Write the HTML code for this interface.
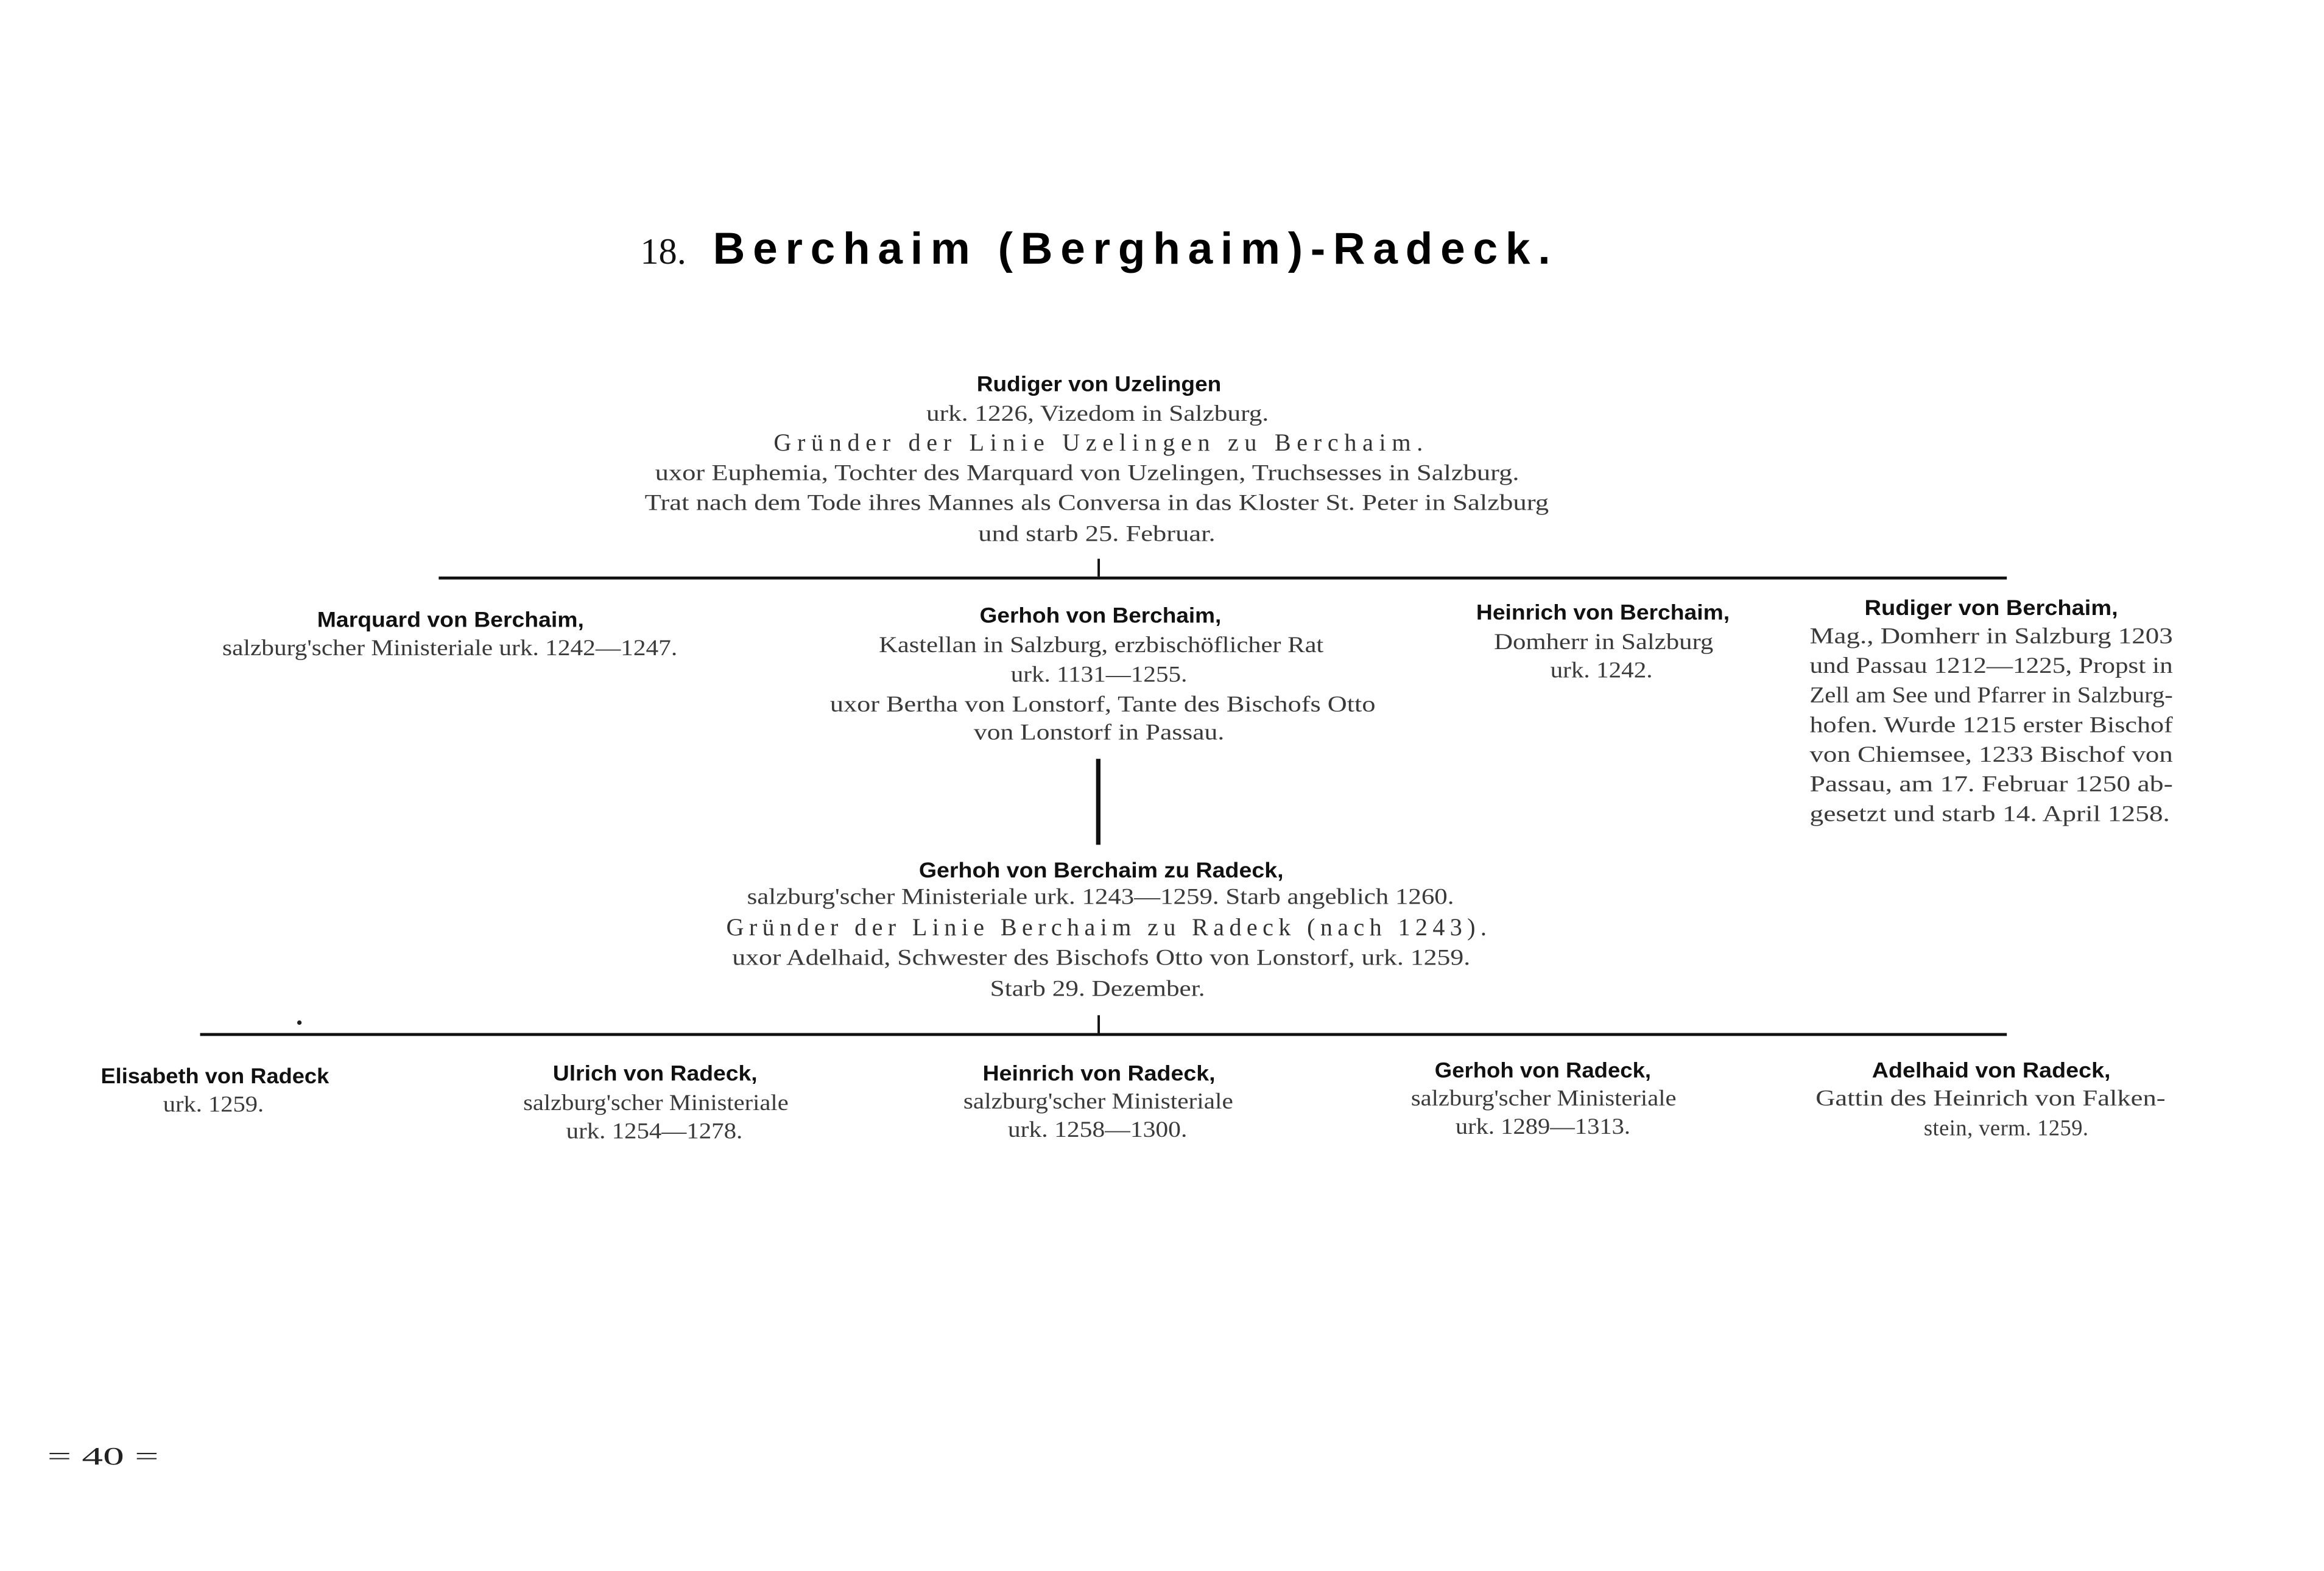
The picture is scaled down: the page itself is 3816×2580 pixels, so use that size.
<!DOCTYPE html>
<html><head><meta charset="utf-8"><style>
html,body{margin:0;padding:0;background:#fff;}
svg{display:block;}
.s{font-family:"Liberation Serif",serif;font-size:15px;fill:#3a3a3a;}
.g{font-family:"Liberation Serif",serif;font-size:16.5px;fill:#333;}
.b{font-family:"Liberation Sans",sans-serif;font-weight:bold;font-size:14.5px;fill:#111;}
</style></head><body>
<svg width="3816" height="2580" viewBox="0 0 1568 1060" preserveAspectRatio="none" xmlns="http://www.w3.org/2000/svg">
<rect width="1568" height="1060" fill="#fff"/>
<text x="432" y="178" textLength="31" lengthAdjust="spacingAndGlyphs" style="font-family:'Liberation Serif',serif;font-size:25px;fill:#111">18.</text>
<text x="481" y="178" textLength="565" lengthAdjust="spacing" style="font-family:'Liberation Sans',sans-serif;font-weight:bold;font-size:30px;fill:#000">Berchaim (Berghaim)-Radeck.</text>

<g>
<text class="b" x="659" y="264" textLength="165" lengthAdjust="spacingAndGlyphs">Rudiger von Uzelingen</text>
<text class="s" x="625" y="284" textLength="231" lengthAdjust="spacingAndGlyphs">urk. 1226, Vizedom in Salzburg.</text>
<text class="g" x="522" y="304" textLength="438" lengthAdjust="spacing">Gründer der Linie Uzelingen zu Berchaim.</text>
<text class="s" x="442" y="324" textLength="583" lengthAdjust="spacingAndGlyphs">uxor Euphemia, Tochter des Marquard von Uzelingen, Truchsesses in Salzburg.</text>
<text class="s" x="435" y="344" textLength="610" lengthAdjust="spacingAndGlyphs">Trat nach dem Tode ihres Mannes als Conversa in das Kloster St. Peter in Salzburg</text>
<text class="s" x="660" y="365" textLength="160" lengthAdjust="spacingAndGlyphs">und starb 25. Februar.</text>

<rect x="296" y="389" width="1058" height="2" fill="#111"/>
<rect x="740.5" y="377" width="1.6" height="12" fill="#111"/>

<text class="b" x="214" y="423" textLength="180" lengthAdjust="spacingAndGlyphs">Marquard von Berchaim,</text>
<text class="s" x="150" y="442" textLength="307" lengthAdjust="spacingAndGlyphs">salzburg'scher Ministeriale urk. 1242—1247.</text>

<text class="b" x="661" y="420" textLength="163" lengthAdjust="spacingAndGlyphs">Gerhoh von Berchaim,</text>
<text class="s" x="593" y="440" textLength="300" lengthAdjust="spacingAndGlyphs">Kastellan in Salzburg, erzbischöflicher Rat</text>
<text class="s" x="682" y="460" textLength="119" lengthAdjust="spacingAndGlyphs">urk. 1131—1255.</text>
<text class="s" x="560" y="480" textLength="368" lengthAdjust="spacingAndGlyphs">uxor Bertha von Lonstorf, Tante des Bischofs Otto</text>
<text class="s" x="657" y="499" textLength="169" lengthAdjust="spacingAndGlyphs">von Lonstorf in Passau.</text>

<text class="b" x="996" y="418" textLength="171" lengthAdjust="spacingAndGlyphs">Heinrich von Berchaim,</text>
<text class="s" x="1008" y="438" textLength="148" lengthAdjust="spacingAndGlyphs">Domherr in Salzburg</text>
<text class="s" x="1046" y="457" textLength="69" lengthAdjust="spacingAndGlyphs">urk. 1242.</text>

<text class="b" x="1258" y="415" textLength="171" lengthAdjust="spacingAndGlyphs">Rudiger von Berchaim,</text>
<text class="s" x="1221" y="434" textLength="245" lengthAdjust="spacingAndGlyphs">Mag., Domherr in Salzburg 1203</text>
<text class="s" x="1221" y="454" textLength="245" lengthAdjust="spacingAndGlyphs">und Passau 1212—1225, Propst in</text>
<text class="s" x="1221" y="474" textLength="245" lengthAdjust="spacingAndGlyphs">Zell am See und Pfarrer in Salzburg-</text>
<text class="s" x="1221" y="494" textLength="245" lengthAdjust="spacingAndGlyphs">hofen. Wurde 1215 erster Bischof</text>
<text class="s" x="1221" y="514" textLength="245" lengthAdjust="spacingAndGlyphs">von Chiemsee, 1233 Bischof von</text>
<text class="s" x="1221" y="534" textLength="245" lengthAdjust="spacingAndGlyphs">Passau, am 17. Februar 1250 ab-</text>
<text class="s" x="1221" y="554" textLength="243" lengthAdjust="spacingAndGlyphs">gesetzt und starb 14. April 1258.</text>

<rect x="739.5" y="512" width="3" height="58" fill="#111"/>

<text class="b" x="620" y="592" textLength="246" lengthAdjust="spacingAndGlyphs">Gerhoh von Berchaim zu Radeck,</text>
<text class="s" x="504" y="610" textLength="477" lengthAdjust="spacingAndGlyphs">salzburg'scher Ministeriale urk. 1243—1259. Starb angeblich 1260.</text>
<text class="g" x="490" y="631" textLength="513" lengthAdjust="spacing">Gründer der Linie Berchaim zu Radeck (nach 1243).</text>
<text class="s" x="494" y="651" textLength="498" lengthAdjust="spacingAndGlyphs">uxor Adelhaid, Schwester des Bischofs Otto von Lonstorf, urk. 1259.</text>
<text class="s" x="668" y="672" textLength="145" lengthAdjust="spacingAndGlyphs">Starb 29. Dezember.</text>

<rect x="135" y="697" width="1219" height="2" fill="#111"/>
<rect x="740.5" y="685" width="1.6" height="12" fill="#111"/>
<circle cx="202" cy="690" r="1.5" fill="#222"/>

<text class="b" x="68" y="731" textLength="154" lengthAdjust="spacingAndGlyphs">Elisabeth von Radeck</text>
<text class="s" x="110" y="750" textLength="68" lengthAdjust="spacingAndGlyphs">urk. 1259.</text>

<text class="b" x="373" y="729" textLength="138" lengthAdjust="spacingAndGlyphs">Ulrich von Radeck,</text>
<text class="s" x="353" y="749" textLength="179" lengthAdjust="spacingAndGlyphs">salzburg'scher Ministeriale</text>
<text class="s" x="382" y="768" textLength="119" lengthAdjust="spacingAndGlyphs">urk. 1254—1278.</text>

<text class="b" x="663" y="729" textLength="157" lengthAdjust="spacingAndGlyphs">Heinrich von Radeck,</text>
<text class="s" x="650" y="748" textLength="182" lengthAdjust="spacingAndGlyphs">salzburg'scher Ministeriale</text>
<text class="s" x="680" y="767" textLength="121" lengthAdjust="spacingAndGlyphs">urk. 1258—1300.</text>

<text class="b" x="968" y="727" textLength="146" lengthAdjust="spacingAndGlyphs">Gerhoh von Radeck,</text>
<text class="s" x="952" y="746" textLength="179" lengthAdjust="spacingAndGlyphs">salzburg'scher Ministeriale</text>
<text class="s" x="982" y="765" textLength="118" lengthAdjust="spacingAndGlyphs">urk. 1289—1313.</text>

<text class="b" x="1263" y="727" textLength="161" lengthAdjust="spacingAndGlyphs">Adelhaid von Radeck,</text>
<text class="s" x="1225" y="746" textLength="236" lengthAdjust="spacingAndGlyphs">Gattin des Heinrich von Falken-</text>
<text class="s" x="1298" y="766" textLength="111" lengthAdjust="spacing">stein, verm. 1259.</text>

<text x="32" y="988" textLength="75" lengthAdjust="spacingAndGlyphs" style="font-family:'Liberation Serif',serif;font-size:17px;fill:#222">= 40 =</text>
</g>
</svg>
</body></html>
